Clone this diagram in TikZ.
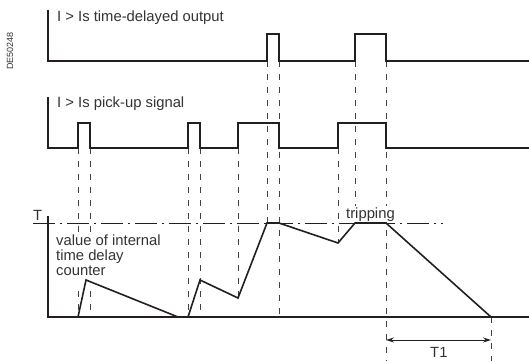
\documentclass[tikz,border=0pt]{standalone}
\usepackage{fontspec}
\setmainfont{Liberation Sans}
\usetikzlibrary{arrows.meta}
\definecolor{ink}{HTML}{231F20}
\definecolor{txt}{HTML}{333333}
\tikzset{
  sig/.style={draw=ink, line width=1.6pt, line join=miter},
  guide/.style={draw=ink!85, line width=0.75pt, dash pattern=on 6pt off 7pt},
  tline/.style={draw=ink, line width=0.8pt, dash pattern=on 22pt off 5pt on 2pt off 5pt},
  lbl/.style={text=txt, font=\fontsize{14.8}{14.8}\selectfont, inner sep=0pt, anchor=base west},
  dim/.style={draw=ink, line width=0.9pt, {Stealth[length=8pt,width=5pt]}-{Stealth[length=8pt,width=5pt]}}
}
\begin{document}
\begin{tikzpicture}[x=1pt,y=-1pt]
\useasboundingbox (0,0) rectangle (529,361);
% code label
\node[text=txt, font=\fontsize{9}{9}\selectfont, rotate=90, inner sep=0pt] (code) at (10,51) {DE50248};
% guides
\coordinate (g78a) at (78,148);  \coordinate (g78b) at (78,317);
\coordinate (g90a) at (90,148);  \coordinate (g90b) at (90,317);
\coordinate (g188a) at (188,148); \coordinate (g188b) at (188,317);
\coordinate (g200a) at (200,148); \coordinate (g200b) at (200,317);
\coordinate (g238a) at (238,148); \coordinate (g238b) at (238,298);
\coordinate (g267a) at (267,61);  \coordinate (g267b) at (267,223);
\coordinate (g279a) at (279,61);  \coordinate (g279b) at (279,317);
\coordinate (g338a) at (338,148); \coordinate (g338b) at (338,243);
\coordinate (g355a) at (355,61);  \coordinate (g355b) at (355,223);
\coordinate (g386a) at (386,61);  \coordinate (g386b) at (386,361);
\coordinate (g491a) at (491,317); \coordinate (g491b) at (491,361);
\foreach \g in {78,90,188,200,238,267,279,338,355,386,491}
  \draw[guide] (g\g a) -- (g\g b);
% threshold line
\coordinate (ta) at (33,223); \coordinate (tb) at (443,223);
\draw[tline] (ta) -- (tb);
% labels with white background
\node[lbl, anchor=north west, align=left, fill=white, inner xsep=2pt, inner ysep=1pt, text depth=14pt] (cnt) at (54,233.5) {value of internal\\time delay\\counter};
\node[lbl, fill=white, inner xsep=1pt, inner ysep=1pt] (ltrip) at (345,218) {tripping};
% output signal
\draw[sig] (48,10) -- (48,61) -- (267,61) -- (267,34) -- (279,34) -- (279,61)
  -- (355,61) -- (355,34) -- (386,34) -- (386,61) -- (529,61);
% pick-up signal
\draw[sig] (48,97) -- (48,148) -- (78,148) -- (78,123) -- (90,123) -- (90,148)
  -- (188,148) -- (188,123) -- (200,123) -- (200,148) -- (238,148) -- (238,123)
  -- (279,123) -- (279,148) -- (338,148) -- (338,123) -- (386,123) -- (386,148) -- (529,148);
% counter axes
\draw[sig] (48,216) -- (48,317) -- (529,317);
% counter curve
\draw[sig] (78,317) -- (86,280) -- (178,317);
\draw[sig] (188,317) -- (200,280) -- (238,298) -- (267,223) -- (279,223)
  -- (338,243) -- (355,223) -- (386,223) -- (491,317);
% T1 dimension
\coordinate (d1) at (386,340); \coordinate (d2) at (491,340);
\draw[dim] (d1) -- (d2);
% other labels
\node[lbl] (lout) at (57,22) {I > Is time-delayed output};
\node[lbl] (lpick) at (57,107) {I > Is pick-up signal};
\node[lbl] (lT) at (33,220) {T};
\node[lbl] (lT1) at (430,357) {T1};
\end{tikzpicture}
\end{document}
